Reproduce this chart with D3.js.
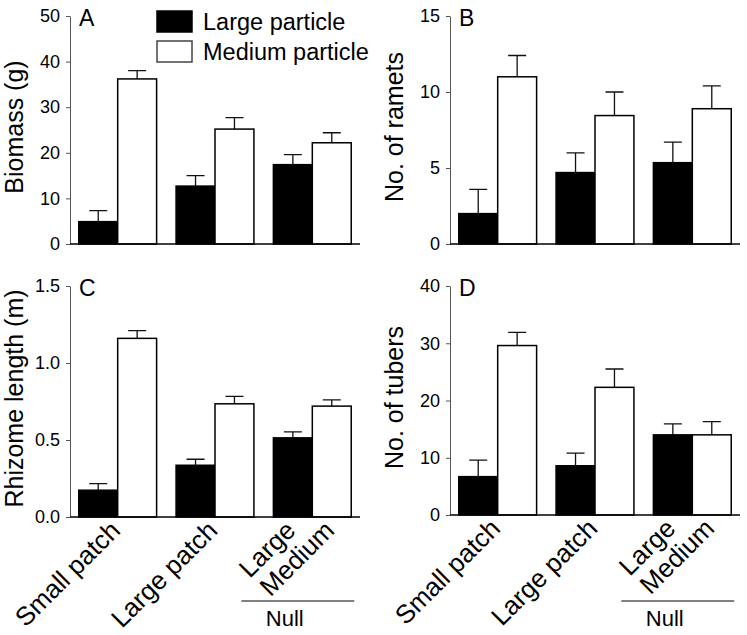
<!DOCTYPE html>
<html>
<head>
<meta charset="utf-8">
<script src="https://cdn.jsdelivr.net/npm/d3@7"></script>
<style>
  body { margin: 0; background: #fff; }
  svg { font-family: Arial, "Liberation Sans", sans-serif; }
</style>
</head>
<body>
<div id="chart"></div>
<script>
// groups on the x axis, and the two particle series
const groups = ["Small patch", "Large patch", "Null"];
const series = ["Large particle", "Medium particle"];

// panel A - biomass (g)
const biomassLarge = [4.9, 12.7, 17.4];
const biomassLargeErr = [2.4, 2.3, 2.2];
const biomassMedium = [36.2, 25.2, 22.2];
const biomassMediumErr = [1.8, 2.5, 2.2];
const biomassTicks = [0, 10, 20, 30, 40, 50];

// panel B - no. of ramets
const rametsLarge = [2.0, 4.7, 5.35];
const rametsLargeErr = [1.6, 1.3, 1.35];
const rametsMedium = [11.0, 8.45, 8.9];
const rametsMediumErr = [1.4, 1.55, 1.5];
const rametsTicks = [0, 5, 10, 15];

// panel C - rhizome length (m)
const rhizomeLarge = [0.174, 0.336, 0.514];
const rhizomeLargeErr = [0.043, 0.039, 0.039];
const rhizomeMedium = [1.16, 0.735, 0.72];
const rhizomeMediumErr = [0.05, 0.048, 0.04];
const rhizomeTicks = [0, 0.5, 1.0, 1.5];

// panel D - no. of tubers
const tubersLarge = [6.7, 8.6, 14.0];
const tubersLargeErr = [2.9, 2.2, 1.9];
const tubersMedium = [29.6, 22.3, 14.0];
const tubersMediumErr = [2.3, 3.2, 2.3];
const tubersTicks = [0, 10, 20, 30, 40];

const width = 747;
const height = 635;
const colors = ["#000", "#fff"];

let svg = d3.select("#chart")
    .append("svg")
    .attr("width", width)
    .attr("height", height);

const panels = [
    {letter: "A", title: "Biomass (g)", left: 70, top: 16, bottom: 244, ticks: biomassTicks, fmt: d3.format("d"),
        large: biomassLarge, largeErr: biomassLargeErr, medium: biomassMedium, mediumErr: biomassMediumErr, labels: false},
    {letter: "B", title: "No. of ramets", left: 450, top: 16, bottom: 244, ticks: rametsTicks, fmt: d3.format("d"),
        large: rametsLarge, largeErr: rametsLargeErr, medium: rametsMedium, mediumErr: rametsMediumErr, labels: false},
    {letter: "C", title: "Rhizome length (m)", left: 70, top: 286, bottom: 517, ticks: rhizomeTicks, fmt: d3.format(".1f"),
        large: rhizomeLarge, largeErr: rhizomeLargeErr, medium: rhizomeMedium, mediumErr: rhizomeMediumErr, labels: true},
    {letter: "D", title: "No. of tubers", left: 450, top: 286, bottom: 515, ticks: tubersTicks, fmt: d3.format("d"),
        large: tubersLarge, largeErr: tubersLargeErr, medium: tubersMedium, mediumErr: tubersMediumErr, labels: true}
];
const plotWidth = 290;

panels.forEach(function(p) {
    let g = svg.append("g");
    let x = d3.scaleBand()
        .domain(groups)
        .range([p.left, p.left + plotWidth])
        .paddingInner(0.2)
        .paddingOuter(0.09);
    let xs = d3.scaleBand()
        .domain(series)
        .range([0, x.bandwidth()]);
    let y = d3.scaleLinear()
        .domain([0, d3.max(p.ticks)])
        .range([p.bottom, p.top]);

    let rows = [];
    groups.forEach(function(grp, i) {
        rows.push({group: grp, s: series[0], v: p.large[i], e: p.largeErr[i]});
        rows.push({group: grp, s: series[1], v: p.medium[i], e: p.mediumErr[i]});
    });

    // error bars (upper half only)
    g.selectAll(".err")
        .data(rows)
        .join("path")
        .attr("class", "err")
        .attr("d", function(d) {
            let cx = x(d.group) + xs(d.s) + xs.bandwidth() / 2;
            let top = y(d.v + d.e);
            return `M${cx},${y(d.v)}V${top}M${cx - 9},${top}H${cx + 9}`;
        })
        .style("fill", "none")
        .style("stroke", "#111")
        .style("stroke-width", "1.3");

    g.selectAll(".bar")
        .data(rows)
        .join("rect")
        .attr("class", "bar")
        .attr("x", d => x(d.group) + xs(d.s))
        .attr("y", d => y(d.v))
        .attr("width", xs.bandwidth())
        .attr("height", d => y(0) - y(d.v))
        .style("fill", d => colors[series.indexOf(d.s)])
        .style("stroke", "#000")
        .style("stroke-width", "1.5");

    // y axis
    let yAxis = g.append("g")
        .attr("transform", `translate(${p.left},0)`)
        .call(d3.axisLeft(y).tickValues(p.ticks).tickFormat(p.fmt).tickSize(4).tickSizeOuter(0).tickPadding(6));
    yAxis.select(".domain").style("stroke", "#555").style("stroke-width", "1");
    yAxis.selectAll(".tick line").style("stroke", "#555");
    yAxis.selectAll(".tick text")
        .style("font-size", "18px")
        .style("font-family", "Arial, 'Liberation Sans', sans-serif")
        .style("fill", "#000");

    // x axis line
    g.append("line")
        .attr("x1", p.left)
        .attr("x2", p.left + plotWidth)
        .attr("y1", y(0))
        .attr("y2", y(0))
        .style("stroke", "#000")
        .style("stroke-width", "1.5");

    g.append("text")
        .attr("x", p.left + 9)
        .attr("y", p.top + 10)
        .style("font-size", "23px")
        .text(p.letter);

    g.append("text")
        .attr("transform", `translate(${p.left - 47},${(p.top + p.bottom) / 2 - 3}) rotate(-90)`)
        .attr("text-anchor", "middle")
        .style("font-size", "25px")
        .text(p.title);

    if (p.labels) {
        let lab = [
            {t: "Small patch", cx: x(groups[0]) + x.bandwidth() / 2},
            {t: "Large patch", cx: x(groups[1]) + x.bandwidth() / 2},
            {t: "Large", cx: x(groups[2]) + xs(series[0]) + xs.bandwidth() / 2},
            {t: "Medium", cx: x(groups[2]) + xs(series[1]) + xs.bandwidth() / 2}
        ];
        g.selectAll(".xlab")
            .data(lab)
            .join("text")
            .attr("class", "xlab")
            .attr("text-anchor", "end")
            .attr("transform", d => `translate(${d.cx + 4},${y(0) + 15}) rotate(-45)`)
            .style("font-size", "26px")
            .text(d => d.t);

        let nx0 = x(groups[2]) - 32;
        let nx1 = x(groups[2]) + x.bandwidth() + 3;
        g.append("line")
            .attr("x1", nx0)
            .attr("x2", nx1)
            .attr("y1", 601)
            .attr("y2", 601)
            .style("stroke", "#000")
            .style("stroke-width", "1");
        g.append("text")
            .attr("x", (nx0 + nx1) / 2 - 13)
            .attr("y", 626)
            .attr("text-anchor", "middle")
            .style("font-size", "22px")
            .text(groups[2]);
    }
});

// legend
let legend = svg.append("g");
series.forEach(function(s, i) {
    legend.append("rect")
        .attr("x", 157)
        .attr("y", 11 + i * 30)
        .attr("width", 35)
        .attr("height", 21)
        .style("fill", colors[i])
        .style("stroke", i === 0 ? "#000" : "#444")
        .style("stroke-width", "1.5");
    legend.append("text")
        .attr("x", 203)
        .attr("y", 30 + i * 30)
        .style("font-size", "23.5px")
        .text(s);
});
</script>
</body>
</html>
